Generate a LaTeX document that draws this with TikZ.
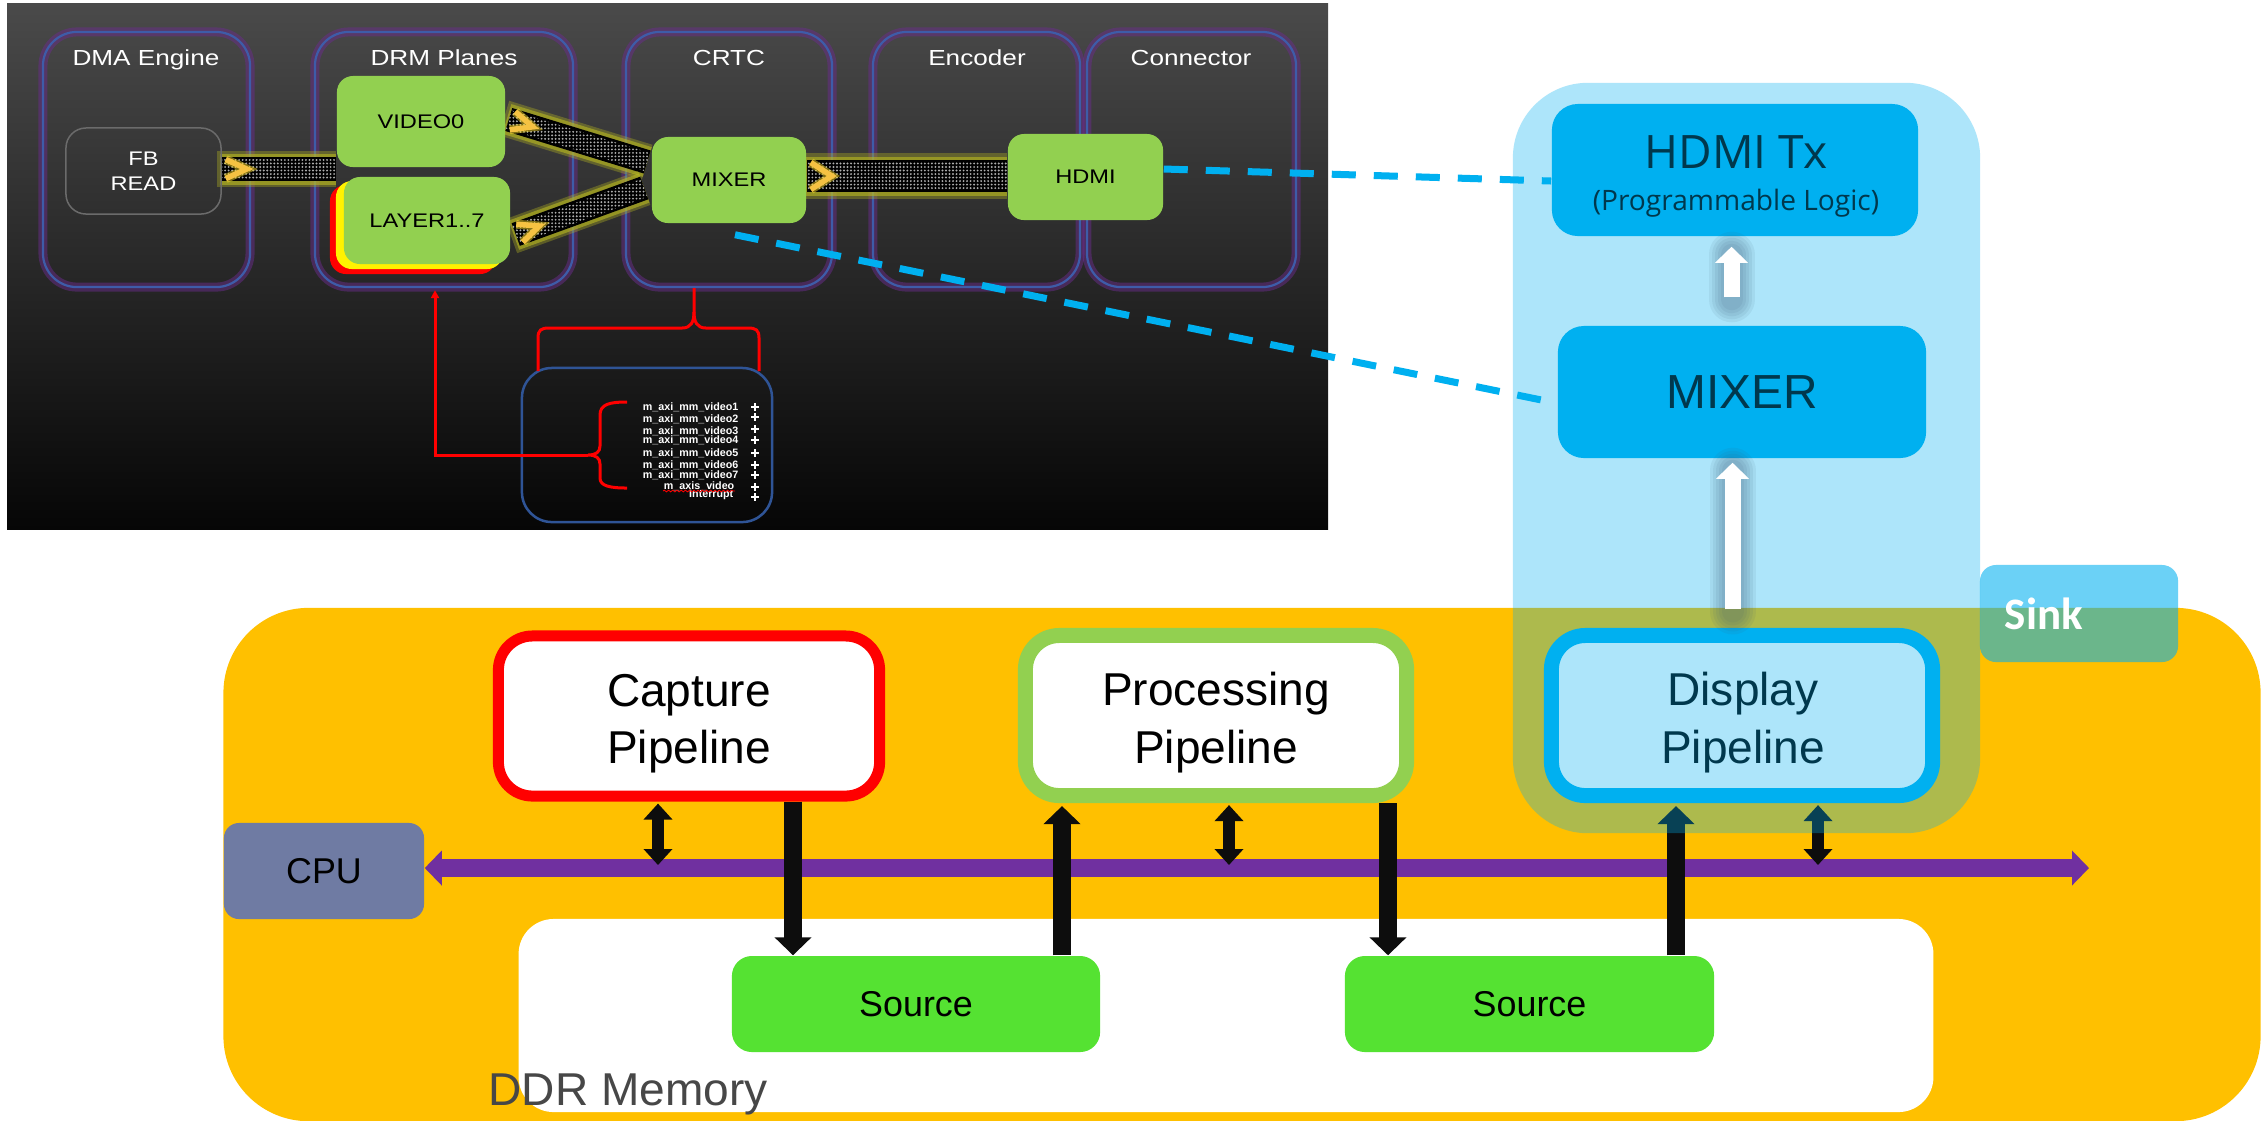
\documentclass[tikz,border=0pt]{standalone}
\usepackage{fontspec}
\setmainfont{Liberation Sans}
\newfontfamily\wsans[FakeStretch=1.2]{Liberation Sans}
\newfontfamily\osans{Open Sans}
\newfontfamily\csans{Carlito}
\usetikzlibrary{calc,arrows.meta,patterns.meta,decorations.pathmorphing}

\definecolor{orangebg}{HTML}{FFC000}
\definecolor{skyblue}{HTML}{00B0F0}
\definecolor{leaf}{HTML}{92D050}
\definecolor{srcgreen}{HTML}{55E232}
\definecolor{busviolet}{HTML}{7030A0}
\definecolor{cpuslate}{HTML}{6F7BA3}
\definecolor{ink}{HTML}{0D0D0D}
\definecolor{colblue}{HTML}{3E5CA8}
\definecolor{colglow}{HTML}{6A2C8C}
\definecolor{portblue}{HTML}{2F5496}
\definecolor{chev}{HTML}{F5C242}
\definecolor{glowyel}{HTML}{B8B820}
\definecolor{ddrtext}{HTML}{474747}
\definecolor{shadowblue}{HTML}{3A5A78}
\definecolor{darktop}{HTML}{4A4A4A}
\definecolor{darkbot}{HTML}{060606}
\definecolor{fbline}{HTML}{6B6B6B}

\pgfdeclarelayer{base}
\pgfdeclarelayer{links}
\pgfdeclarelayer{veil}
\pgfdeclarelayer{front}
\pgfsetlayers{base,links,main,veil,front}

% textured link band with glow and a chevron at its start
% #1 from, #2 to, #3 band width, #4 half width of the texture, #5 glow width
\newcommand\linkband[5]{%
  \coordinate (gla) at ($(#1)!-0.05cm!(#2)$);
  \draw[glowyel, draw opacity=0.35, line width=#5] (gla) -- (#2);
  \draw[glowyel, draw opacity=0.6, line width=#3+0.07cm] ($(#1)!-0.02cm!(#2)$) -- (#2);
  \draw[black, line width=#3] (#1) -- (#2);
  \fill[pattern={Dots[radius=0.3pt,distance=1.0pt]}, pattern color=gray!65]
    ($(#1)!#4!90:(#2)$) -- ($(#2)!#4!-90:(#1)$) -- ($(#2)!#4!90:(#1)$) -- ($(#1)!#4!-90:(#2)$) -- cycle;
  \coordinate (cva) at ($(#1)!0.04cm!(#2)$);
  \coordinate (cvb) at ($(#1)!0.25cm!(#2)$);
  \draw[chev!60!yellow, draw opacity=0.5, line width=0.09cm] ($(cva)!#4!90:(#2)$) -- (cvb) -- ($(cva)!#4!-90:(#2)$);
  \draw[chev, line width=0.055cm] ($(cva)!#4!90:(#2)$) -- (cvb) -- ($(cva)!#4!-90:(#2)$);
}

\begin{document}
\begin{tikzpicture}[x=0.01cm, y=-0.01cm,
  column/.style={draw=colblue, line width=0.022cm, rounded corners=0.34cm, inner sep=0,
    minimum height=2.55cm, preaction={draw=colglow, line width=0.09cm, draw opacity=0.5}},
  coltitle/.style={text=white, font=\wsans\fontsize{6.2}{7.4}\selectfont, inner sep=0, anchor=base},
  gbox/.style={fill=leaf, rounded corners=0.16cm, inner sep=0, text=black,
    font=\wsans\fontsize{5.6}{6.7}\selectfont},
  port/.style={text=white, font=\bfseries\fontsize{3.05}{3.6}\selectfont, inner sep=0, anchor=east},
  redline/.style={draw=red, line width=0.03cm},
  pipe/.style={fill=white, rounded corners=0.34cm, inner sep=0, minimum width=3.81cm, minimum height=1.6cm},
  pipetext/.style={font=\fontsize{13.1}{15.7}\selectfont, inner sep=0, anchor=base},
  srcbox/.style={fill=srcgreen, rounded corners=0.2cm, inner sep=0, minimum height=0.96cm,
    font=\fontsize{10.2}{12.2}\selectfont},
  bigarrow/.style={draw=ink, line width=0.18cm, -{Triangle[length=0.18cm,width=0.36cm]}},
  twoway/.style={draw=ink, line width=0.12cm,
    {Triangle[length=0.16cm,width=0.28cm]}-{Triangle[length=0.16cm,width=0.28cm]}},
  busline/.style={draw=busviolet, line width=0.18cm,
    {Triangle[length=0.17cm,width=0.34cm]}-{Triangle[length=0.17cm,width=0.34cm]}},
  linkdash/.style={draw=skyblue, line width=0.07cm, dash pattern=on 0.24cm off 0.18cm},
  bluebox/.style={fill=skyblue, rounded corners=0.26cm, inner sep=0},
  liftarrow/.style={draw=white, line width=0.16cm, -{Triangle[length=0.16cm,width=0.32cm]}},
  liftshadow/.style={draw=shadowblue, line cap=round, draw opacity=0.085},
]
\useasboundingbox (0,0) rectangle (2261,1120);

% ---------------- background pieces ----------------
\begin{pgfonlayer}{base}
  \fill[white] (0,0) rectangle (2261,1120);
  \shade[top color=darktop, bottom color=darkbot] (7,3) rectangle (1328,529);
  \node[column, minimum width=2.07cm] (dma)  at (146.5,159.5) {};
  \node[column, minimum width=2.58cm] (drm)  at (444,159.5) {};
  \node[column, minimum width=2.06cm] (crtc) at (729,159.5) {};
  \node[column, minimum width=2.07cm] (enc)  at (976.5,159.5) {};
  \node[column, minimum width=2.09cm] (con)  at (1191.5,159.5) {};
  \node[fill=orangebg, rounded corners=0.85cm, inner sep=0, minimum width=20.36cm, minimum height=5.13cm] (mem) at (1242,864.5) {};
  \node[fill=white, rounded corners=0.35cm, inner sep=0, minimum width=14.14cm, minimum height=1.93cm] (ddr) at (1226,1015.5) {};
\end{pgfonlayer}

% ---------------- DRM pipeline panel ----------------
\node[coltitle] (dma-t)  at (146,65)  {DMA Engine};
\node[coltitle] (drm-t)  at (444,65)  {DRM Planes};
\node[coltitle] (crtc-t) at (729,65)  {CRTC};
\node[coltitle] (enc-t)  at (977,65)  {Encoder};
\node[coltitle] (con-t)  at (1191,65) {Connector};

\node[draw=fbline, line width=0.015cm, rounded corners=0.2cm, minimum width=1.55cm, minimum height=0.86cm,
  inner sep=0, text=white, align=center, font=\wsans\fontsize{5.6}{7.1}\selectfont] (fb) at (143.5,171) {FB\\READ};

\node[fill=red, rounded corners=0.16cm, inner sep=0, minimum width=1.66cm, minimum height=0.89cm] (lyr) at (413,229.5) {};
\node[fill=yellow, rounded corners=0.16cm, inner sep=0, minimum width=1.67cm, minimum height=0.88cm] (lyy) at (419.5,225) {};
\node[gbox, minimum width=1.66cm, minimum height=0.87cm] (ly) at (427,220.5) {LAYER1..7};
\node[gbox, minimum width=1.68cm, minimum height=0.91cm] (v0) at (421,121.5) {VIDEO0};
\node[gbox, minimum width=1.54cm, minimum height=0.86cm] (mix) at (729,180) {MIXER};
\node[gbox, minimum width=1.55cm, minimum height=0.86cm] (hdmi) at (1085.5,177) {HDMI};

\begin{pgfonlayer}{links}
  \coordinate (fbo) at ($(fb.east)+(0,-2)$);
  \coordinate (v0i) at (fbo -| v0.west);
  \linkband{fbo}{v0i}{0.24cm}{0.095cm}{0.36cm}
  \coordinate (v0o) at ($(v0.east)+(3,-2)$);
  \coordinate (mxa) at ($(mix.west)+(-4,-18)$);
  \linkband{v0o}{mxa}{0.24cm}{0.095cm}{0.36cm}
  \coordinate (lyo) at ($(ly.east)+(5,14)$);
  \coordinate (mxb) at ($(mix.west)+(-7,8)$);
  \linkband{lyo}{mxb}{0.24cm}{0.095cm}{0.36cm}
  \coordinate (mxo) at ($(mix.east)+(0,-4)$);
  \coordinate (hdi) at (mxo -| hdmi.west);
  \linkband{mxo}{hdi}{0.32cm}{0.135cm}{0.46cm}
\end{pgfonlayer}

% port list of the mixer IP
\node[draw=portblue, line width=0.025cm, rounded corners=0.3cm, minimum width=2.5cm, minimum height=1.54cm, inner sep=0] (ports) at (647,445) {};
\foreach \i/\y/\x/\t in {1/407/739/m\_axi\_mm\_video1, 2/419/739/m\_axi\_mm\_video2, 3/431/739/m\_axi\_mm\_video3,
    4/440/739/m\_axi\_mm\_video4, 5/453/739/m\_axi\_mm\_video5, 6/465/739/m\_axi\_mm\_video6,
    7/475/739/m\_axi\_mm\_video7, 8/486/735/m\_axis\_video, 9/495/734/Interrupt}
  \node[port] (p\i) at (\x,\y) {\t};
\foreach \y in {407,417,429,440,453,465,475,487,497}
  \draw[white, line width=0.02cm] (751,\y) -- (759,\y) (755,\y-4) -- (755,\y+4);
\draw[red, line width=0.008cm, decorate, decoration={snake, amplitude=0.25pt, segment length=1.2pt}] (663,491) -- (735,491);

% red braces
\draw[redline] (627,402) .. controls (610,402) and (600,404) .. (600,415) -- (600,446)
  .. controls (600,452) and (596,455) .. (588,455) .. controls (596,455) and (600,458) .. (600,464)
  -- (600,478) .. controls (600,486) and (610,488) .. (627,488);
\coordinate (brtip) at (588,455);
\draw[redline, -{Triangle[length=0.08cm,width=0.08cm]}] (brtip) -| ($(drm.south)+(-9,2)$);
\draw[redline] (538,371) -- (538,338) .. controls (538,330) and (541,328) .. (549,328) -- (682,328)
  .. controls (691,328) and (694,322) .. (694,312) -- ($(crtc.south)+(-35,0)$);
\draw[redline] (694,312) .. controls (694,322) and (697,328) .. (706,328) -- (748,328)
  .. controls (756,328) and (759,330) .. (759,338) -- (759,371);

% ---------------- sink side ----------------
\node[bluebox, minimum width=3.66cm, minimum height=1.32cm] (hdtx) at (1735,170) {};
\node[inner sep=0, anchor=base, font=\osans\fontsize{13.1}{15}\selectfont] (hdtxa) at (1736,168) {HDMI Tx};
\node[inner sep=0, anchor=base, font=\osans\fontsize{8}{9.6}\selectfont] (hdtxb) at (1736,210) {(Programmable Logic)};
\node[bluebox, minimum width=3.68cm, minimum height=1.32cm, font=\fontsize{13.6}{16}\selectfont] (mixr) at (1742,392) {MIXER};

\draw[linkdash] ($(hdmi.east)+(0,-8)$) -- ($(hdtx.west)+(0,11)$);
\draw[linkdash] ($(mix.south)+(6,11)$) -- ($(mixr.west)+(-6,10)$);

% ---------------- memory side ----------------
\node[fill=cpuslate, rounded corners=0.15cm, minimum width=2cm, minimum height=0.96cm, inner sep=0,
  font=\fontsize{10.2}{12.2}\selectfont] (cpu) at (324,871) {CPU};

\node[pipe, draw=red, line width=0.11cm] (cap) at (689,716) {};
\node[pipetext] (capa) at (689,706) {Capture};
\node[pipetext] (capb) at (689,763) {Pipeline};
\node[pipe, draw=leaf, line width=0.15cm] (proc) at (1216,715.5) {};
\node[pipetext] (proca) at (1216,705) {Processing};
\node[pipetext] (procb) at (1216,763) {Pipeline};
\node[pipe, draw=skyblue, line width=0.15cm] (disp) at (1742,715.5) {};
\node[pipetext] (dispa) at (1743,705) {Display};
\node[pipetext] (dispb) at (1743,763) {Pipeline};

\node[srcbox, minimum width=3.68cm] (srcA) at (916,1004) {Source};
\node[srcbox, minimum width=3.69cm] (srcB) at (1529.5,1004) {Source};

\node[anchor=base west, inner sep=0, text=ddrtext, font=\fontsize{13.1}{15.7}\selectfont] (ddrt) at (488,1105) {DDR Memory};

\coordinate (busL) at ($(cpu.east)+(0,-3)$);
\coordinate (busR) at (2089,868);
\draw[busline] (busL) -- (busR);

\draw[bigarrow] ($(cap.south)+(104,0)$) -- ($(srcA.north)+(-123,0)$);
\draw[bigarrow] ($(srcA.north)+(146,0)$) -- ($(proc.south)+(-154,3)$);
\draw[bigarrow] ($(proc.south)+(172,0)$) -- ($(srcB.north)+(-141.5,0)$);
\draw[bigarrow] ($(srcB.north)+(146.5,0)$) -- ($(disp.south)+(-66,3)$);

\coordinate (dua) at ($(cap.south)+(-31,2)$);
\coordinate (dub) at ($(proc.south)+(13,2)$);
\coordinate (duc) at ($(disp.south)+(76,2)$);
\draw[twoway, shorten >=0.03cm] (dua) -- (dua |- busL);
\draw[twoway, shorten >=0.03cm] (dub) -- (dub |- busL);
\draw[twoway, shorten >=0.03cm] (duc) -- (duc |- busL);

% ---------------- translucent sink zone ----------------
\begin{pgfonlayer}{veil}
  \node[fill=skyblue, fill opacity=0.32, rounded corners=0.75cm, inner sep=0,
    minimum width=4.67cm, minimum height=7.5cm] (sinkzone) at (1746.5,458) {};
\end{pgfonlayer}

\begin{pgfonlayer}{front}
  \coordinate (wa1s) at ($(mixr.north)+(-10.5,-28)$);
  \coordinate (wa1e) at ($(hdtx.south)+(-3.5,10)$);
  \coordinate (wa2s) at ($(disp.north)+(-9.5,-18.5)$);
  \coordinate (wa2e) at ($(mixr.south)+(-9.5,4)$);
  \foreach \lw in {0.46,0.40,0.34,0.28,0.22} {
    \draw[liftshadow, line width=\lw cm] ($(wa1s)+(0,2)$) -- ($(wa1e)+(0,8)$);
    \draw[liftshadow, line width=\lw cm] ($(wa2s)+(0,2)$) -- ($(wa2e)+(0,8)$);
  }
  \draw[liftarrow] (wa1s) -- (wa1e);
  \draw[liftarrow] (wa2s) -- (wa2e);

  \node[fill=skyblue, fill opacity=0.58, rounded corners=0.16cm, inner sep=0,
    minimum width=1.98cm, minimum height=0.97cm] (sinkbox) at (2079,613.5) {};
  \node[anchor=base west, inner sep=0, text=white, font=\csans\bfseries\fontsize{12.8}{15}\selectfont] (sinkt) at (2004,629) {Sink};
\end{pgfonlayer}
\end{tikzpicture}
\end{document}
